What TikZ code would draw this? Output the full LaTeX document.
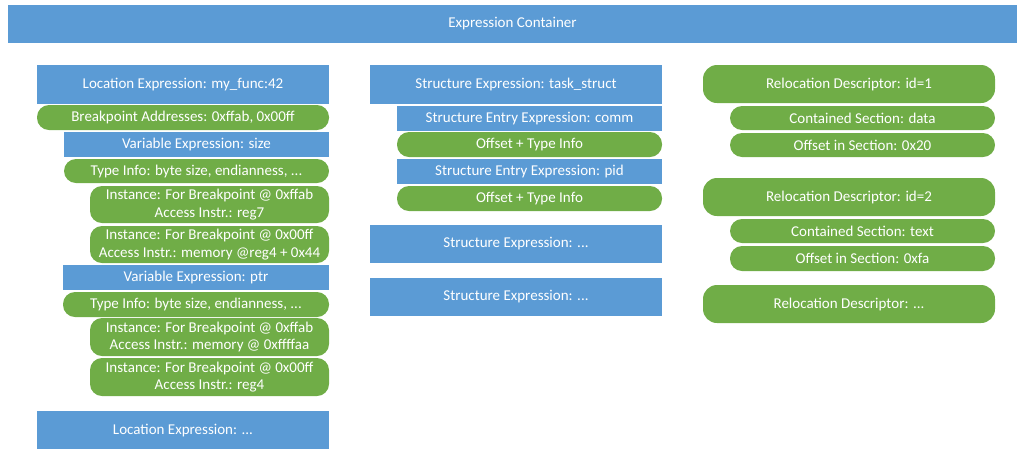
\documentclass[tikz,border=0pt]{standalone}
\usepackage{fontspec}
\setmainfont{Carlito}
\definecolor{boxblue}{HTML}{5B9BD5}
\definecolor{boxgreen}{HTML}{70AD47}
\tikzset{
  base/.style={inner sep=0pt, text=white, align=center,
    font=\fontsize{15}{17.5}\selectfont},
  bluebox/.style={base, fill=boxblue, rectangle},
  pill/.style={base, fill=boxgreen, rounded corners=12pt},
  reloc/.style={base, fill=boxgreen, rounded corners=14pt},
}
\begin{document}
\begin{tikzpicture}[x=1pt, y=-1pt]
\useasboundingbox (0,0) rectangle (1019,448);

% container header
\node[bluebox, minimum width=1009pt, minimum height=38pt] (container) at (512.5,24) {Expression Container};

% location expressions
\node[bluebox, minimum width=292pt, minimum height=39pt] (loc1) at (183,84.5) {Location Expression: my\_func:42};
\node[pill, minimum width=292pt, minimum height=25pt] (bp) at (183,117.5) {Breakpoint Addresses: 0xffab, 0x00ff};
\node[bluebox, minimum width=265pt, minimum height=25pt] (vsize) at (196.5,144.5) {Variable Expression: size};
\node[pill, minimum width=265pt, minimum height=24pt] (tsize) at (196.5,171) {Type Info: byte size, endianness, ...};
\node[pill, minimum width=239pt, minimum height=37pt] (isize1) at (209.5,204.5) {Instance: For Breakpoint @ 0xffab\\Access Instr.: reg7};
\node[pill, minimum width=239pt, minimum height=37pt] (isize2) at (209.5,244.5) {Instance: For Breakpoint @ 0x00ff\\Access Instr.: memory @reg4 + 0x44};
\node[bluebox, minimum width=266pt, minimum height=25pt] (vptr) at (196,277.5) {Variable Expression: ptr};
\node[pill, minimum width=266pt, minimum height=25pt] (tptr) at (196,304.5) {Type Info: byte size, endianness, ...};
\node[pill, minimum width=239pt, minimum height=38pt] (iptr1) at (209.5,337) {Instance: For Breakpoint @ 0xffab\\Access Instr.: memory @ 0xffffaa};
\node[pill, minimum width=239pt, minimum height=38pt] (iptr2) at (209.5,377) {Instance: For Breakpoint @ 0x00ff\\Access Instr.: reg4};
\node[bluebox, minimum width=292pt, minimum height=40pt] (loc2) at (183,431) {Location Expression: ...};

% structure expressions
\node[bluebox, minimum width=292pt, minimum height=39pt] (st1) at (516,84.5) {Structure Expression: task\_struct};
\node[bluebox, minimum width=265pt, minimum height=25pt] (scomm) at (529.5,118.5) {Structure Entry Expression: comm};
\node[pill, minimum width=265pt, minimum height=25pt] (ocomm) at (529.5,144.5) {Offset + Type Info};
\node[bluebox, minimum width=265pt, minimum height=25pt] (spid) at (529.5,171.5) {Structure Entry Expression: pid};
\node[pill, minimum width=265pt, minimum height=25pt] (opid) at (529.5,198.5) {Offset + Type Info};
\node[bluebox, minimum width=292pt, minimum height=38pt] (st2) at (516,244) {Structure Expression: ...};
\node[bluebox, minimum width=292pt, minimum height=38pt] (st3) at (516,297) {Structure Expression: ...};

% relocation descriptors
\node[reloc, minimum width=292pt, minimum height=38pt] (rel1) at (849,84) {Relocation Descriptor: id=1};
\node[pill, minimum width=265pt, minimum height=24pt] (csec1) at (862.5,118) {Contained Section: data};
\node[pill, minimum width=265pt, minimum height=24pt] (osec1) at (862.5,145) {Offset in Section: 0x20};
\node[reloc, minimum width=292pt, minimum height=38pt] (rel2) at (849,197) {Relocation Descriptor: id=2};
\node[pill, minimum width=265pt, minimum height=24pt] (csec2) at (862.5,231) {Contained Section: text};
\node[pill, minimum width=265pt, minimum height=25pt] (osec2) at (862.5,258.5) {Offset in Section: 0xfa};
\node[reloc, minimum width=292pt, minimum height=38pt] (rel3) at (849,304) {Relocation Descriptor: ...};
\end{tikzpicture}
\end{document}
